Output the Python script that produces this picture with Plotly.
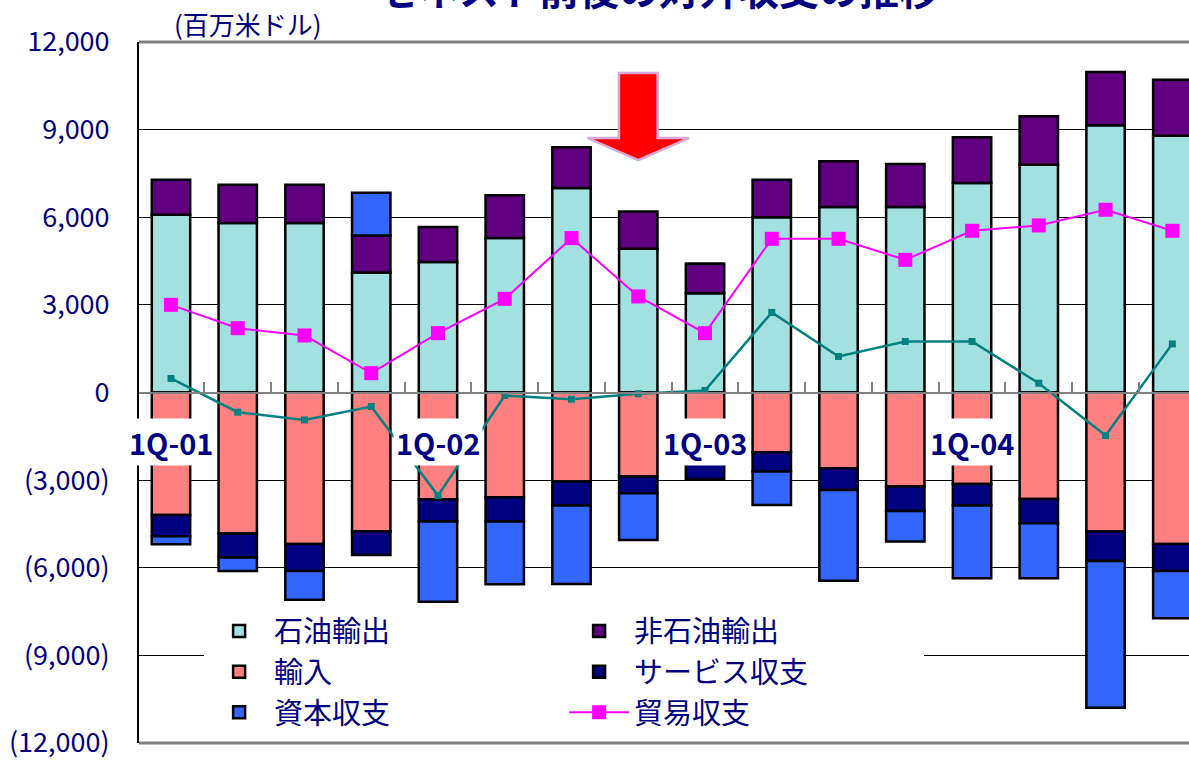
import plotly.graph_objects as go

quarters = ["1Q-01", "2Q-01", "3Q-01", "4Q-01",
            "1Q-02", "2Q-02", "3Q-02", "4Q-02",
            "1Q-03", "2Q-03", "3Q-03", "4Q-03",
            "1Q-04", "2Q-04", "3Q-04", "4Q-04"]
oil_exports = [6085, 5800, 5800, 4111, 4464, 5286, 6999, 4920,
               3402, 5996, 6348, 6348, 7171, 7798, 9147, 8791]
nonoil_exports = [1199, 1312, 1312, 1268, 1199, 1463, 1395, 1281,
                  1004, 1288, 1566, 1474, 1565, 1658, 1827, 1919]
imports = [-4193, -4831, -5187, -4752, -3656, -3587, -3049, -2878,
           -2309, -2045, -2593, -3220, -3131, -3645, -4762, -5187]
services = [-730, -822, -925, -812, -764, -833, -822, -572,
            -651, -662, -744, -836, -740, -833, -1007, -925]
capital = [-274, -459, -980, 1459, -2740, -2148, -2686, -1600,
           0, -1144, -3104, -1049, -2491, -1884, -5023, -1621]
trade_balance = [3001, 2203, 1953, 661, 2032, 3207, 5286, 3289,
                 2032, 5262, 5262, 4543, 5536, 5721, 6256, 5536]
other_line = [480, -675, -939, -480, -3529, -103, -230, -40,
              68, 2741, 1233, 1747, 1747, 319, -1473, 1665]
year_labels = ["1Q-01", "1Q-02", "1Q-03", "1Q-04"]
ytick_vals = [12000, 9000, 6000, 3000, 0, -3000, -6000, -9000, -12000]
ytick_text = ["12,000", "9,000", "6,000", "3,000", "0",
              "(3,000)", "(6,000)", "(9,000)", "(12,000)"]
strike_quarter = "4Q-02"

NAVY = "#000080"
JP = "Noto Sans CJK JP"
x = list(range(len(quarters)))

fig = go.Figure()
bar_specs = [
    ("石油輸出", oil_exports, "#A3E0E0"),
    ("非石油輸出", nonoil_exports, "#600080"),
    ("輸入", imports, "#FF8080"),
    ("サービス収支", services, "#000080"),
    ("資本収支", capital, "#3366FF"),
]
for name, vals, col in bar_specs:
    fig.add_trace(go.Bar(
        x=x, y=vals, name=name, width=0.575,
        marker=dict(color=col, line=dict(color="black", width=2.5)),
    ))

fig.add_trace(go.Scatter(
    x=x, y=other_line, mode="lines+markers", showlegend=False,
    line=dict(color="#008080", width=2.5),
    marker=dict(symbol="square", size=7, color="#008080"),
))
fig.add_trace(go.Scatter(
    x=x, y=trade_balance, mode="lines+markers", name="貿易収支",
    line=dict(color="#FF00FF", width=2),
    marker=dict(symbol="square", size=14, color="#FF00FF"),
))

# quarter labels
for q in year_labels:
    fig.add_annotation(
        x=quarters.index(q), y=-1700, text="<b>%s</b>" % q, showarrow=False,
        font=dict(family=JP, size=29, color=NAVY), bgcolor="white",
        borderpad=2, xanchor="center", yanchor="middle",
    )

# unit label
fig.add_annotation(
    xref="paper", yref="paper", x=0.031, y=1.027, text="(百万米ドル)",
    showarrow=False, xanchor="left", yanchor="middle",
    font=dict(family=JP, size=26, color=NAVY),
)

# title (cut off at the top in the reference)
fig.add_annotation(
    xref="paper", yref="paper", x=0.495, y=1.077,
    text="<b>ゼネスト前後の対外収支の推移</b>", showarrow=False,
    xanchor="center", yanchor="middle",
    font=dict(family=JP, size=40, color=NAVY),
)

# red arrow pointing at the strike quarter
xc = quarters.index(strike_quarter)
sw, hw = 0.29, 0.757
path = (f"M {xc-sw},10940 L {xc+sw},10940 L {xc+sw},8711 L {xc+hw},8711 "
        f"L {xc},7958 L {xc-hw},8711 L {xc-sw},8711 Z")
fig.add_shape(type="path", path=path, xref="x", yref="y",
              fillcolor="#FF0000", line=dict(color="#D8A8D8", width=2.5))

# top and bottom borders
for yy in (0, 1):
    fig.add_shape(type="line", xref="paper", yref="paper", x0=0, x1=1,
                  y0=yy, y1=yy, line=dict(color="#808080", width=3))

fig.update_layout(
    width=1189, height=762,
    margin=dict(l=139, r=0, t=42, b=19),
    paper_bgcolor="white", plot_bgcolor="white",
    barmode="relative", bargap=0.4,
    showlegend=True,
    legend=dict(
        orientation="h", x=0.062, y=0.196, xanchor="left", yanchor="top",
        bgcolor="white", entrywidth=285, entrywidthmode="pixels",
        font=dict(family=JP, size=29, color=NAVY), traceorder="normal",
        itemwidth=60,
    ),
    xaxis=dict(
        range=[-0.479, 15.25], anchor="free", position=0.5,
        showline=True, linecolor="#808080", linewidth=2,
        tickvals=[i + 0.5 for i in x[:-1]], ticks="inside", ticklen=10,
        tickcolor="#808080", tickwidth=1.5, showticklabels=False,
        showgrid=False, zeroline=False,
    ),
    yaxis=dict(
        range=[-12000, 12000], tickvals=ytick_vals, ticktext=ytick_text,
        showgrid=True, gridcolor="black", gridwidth=1, zeroline=False,
        showline=True, linecolor="black", linewidth=2, ticks="",
        ticklabelstandoff=22,
        tickfont=dict(family=JP, size=27, color=NAVY),
    ),
)

fig.write_html(
    "out.html",
    config={"displayModeBar": False},
    post_script="document.body.style.margin='0';document.body.style.padding='0';",
)
